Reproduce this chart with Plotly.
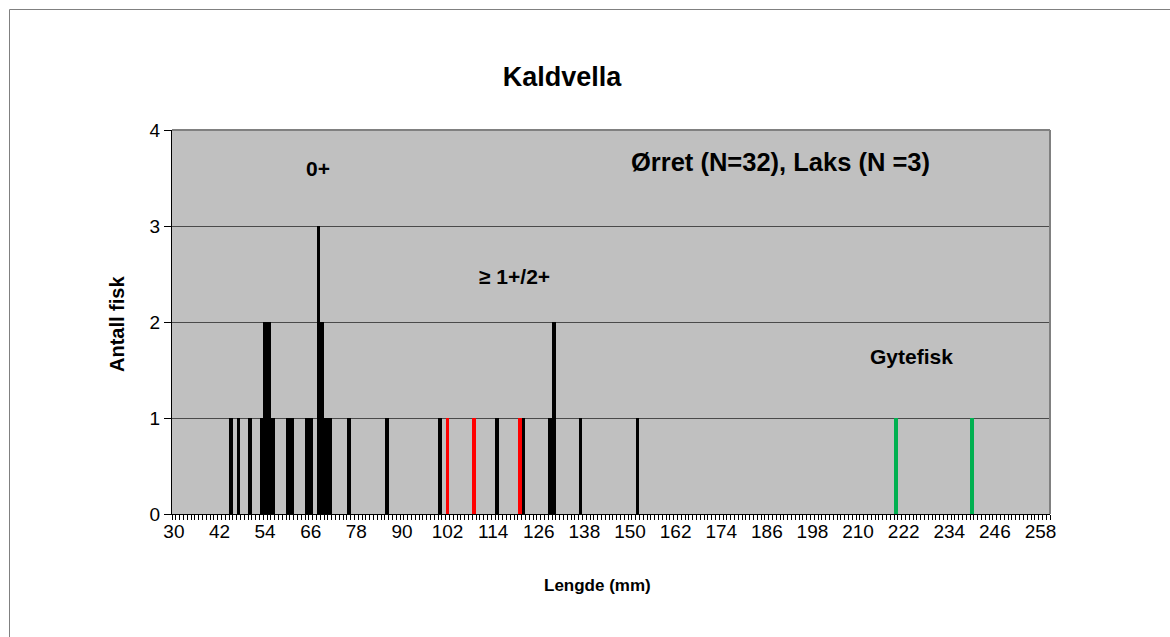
import plotly.graph_objects as go

# Fish length distribution (mm) for Kaldvella, one bar per millimetre class
trout_len = [45, 47, 50, 53, 54, 55, 56, 60, 61, 65, 66, 68, 69, 70, 71,
             76, 86, 100, 115, 122, 129, 130, 137, 152]
trout_cnt = [1, 1, 1, 1, 2, 2, 1, 1, 1, 1, 1, 3, 2, 1, 1,
             1, 1, 1, 1, 1, 1, 2, 1, 1]

salmon_len = [102, 109, 121]
salmon_cnt = [1, 1, 1]

spawner_len = [220, 240]
spawner_cnt = [1, 1]

x_ticks = list(range(30, 259, 12))
y_ticks = [0, 1, 2, 3, 4]

FONT = "Liberation Sans, Arial, sans-serif"

fig = go.Figure()
for xs, ys, name, color in [
    (trout_len, trout_cnt, "Ørret", "#000000"),
    (salmon_len, salmon_cnt, "Laks", "#FF0000"),
    (spawner_len, spawner_cnt, "Gytefisk", "#00B050"),
]:
    fig.add_trace(go.Bar(x=xs, y=ys, name=name, width=[0.95] * len(xs),
                         marker=dict(color=color, line=dict(width=0))))

L, R, T, B = 172, 120, 130, 123
W, H = 1170, 637
pw, ph = W - L - R, H - T - B


def px(x):
    return (x - L) / pw


def py(y):
    return 1 - (y - T) / ph


def label(text, x, y, size, angle=0):
    return dict(text=text, x=px(x), y=py(y), xref="paper", yref="paper",
                xanchor="center", yanchor="middle", showarrow=False,
                textangle=angle, font=dict(size=size))


fig.update_layout(
    width=W, height=H,
    margin=dict(l=L, r=R, t=T, b=B),
    paper_bgcolor="white",
    plot_bgcolor="#C0C0C0",
    barmode="overlay",
    bargap=0,
    showlegend=False,
    font=dict(family=FONT, color="black"),
    title=dict(text="<b>Kaldvella</b>", x=562 / W, xref="container",
               xanchor="center", y=1 - 77 / H, yanchor="middle",
               font=dict(size=27)),
    xaxis=dict(
        range=[29.5, 260.5],
        tickmode="array", tickvals=x_ticks,
        ticktext=[str(v) for v in x_ticks],
        ticks="", showgrid=False, zeroline=False,
        showline=True, linecolor="black", linewidth=1,
        tickfont=dict(size=19),
        minor=dict(ticks="outside", tickmode="linear", tick0=29.5, dtick=1,
                   ticklen=5, tickcolor="black", tickwidth=1, showgrid=False),
    ),
    yaxis=dict(
        range=[0, 4], tickvals=y_ticks,
        ticks="outside", ticklen=7, tickcolor="black",
        showgrid=True, gridcolor="#4a4a4a", gridwidth=1,
        zeroline=False, showline=True, linecolor="black", linewidth=1,
        tickfont=dict(size=19),
    ),
    shapes=[
        # grey frame on the top and right sides of the plot area
        dict(type="line", xref="paper", yref="paper", x0=0, x1=1, y0=1, y1=1,
             line=dict(color="#808080", width=2)),
        dict(type="line", xref="paper", yref="paper", x0=1, x1=1, y0=0, y1=1,
             line=dict(color="#808080", width=2)),
        # outer chart border
        dict(type="rect", xref="paper", yref="paper",
             x0=px(9.5), x1=px(1200), y0=py(700), y1=py(9.5),
             line=dict(color="#808080", width=1), fillcolor="rgba(0,0,0,0)"),
    ],
    annotations=[
        label("<b>Lengde (mm)</b>", 597, 585, 17),
        label("<b>Antall fisk</b>", 117, 324, 20, angle=-90),
        label("<b>0+</b>", 318, 168, 21),
        label("<b>Ørret (N=32), Laks (N =3)</b>", 780, 162, 25.5),
        label("<b>≥ 1+/2+</b>", 514, 276, 21),
        label("<b>Gytefisk</b>", 911, 356, 21),
    ],
)

fig.write_html("out.html")
